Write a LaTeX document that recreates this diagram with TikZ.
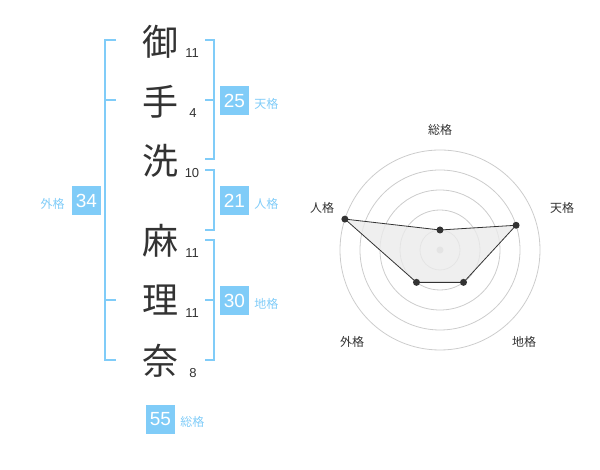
\documentclass[tikz,border=0pt]{standalone}
\usepackage{fontspec}
\setmainfont{Liberation Sans}
\newfontfamily\jp{Noto Sans CJK JP}
\usetikzlibrary{positioning}
\definecolor{kakublue}{HTML}{80CCF8}
\definecolor{ink}{HTML}{333333}

\begin{document}
\begin{tikzpicture}[x=1pt, y=1pt,
    kanji/.style={font=\jp\fontsize{36}{36}\selectfont, text=ink, inner sep=0pt},
    strokes/.style={font=\fontsize{13}{13}\selectfont, text=ink, inner sep=0pt},
    kakubox/.style={fill=kakublue, text=white, minimum size=29pt, inner sep=0pt, font=\fontsize{19}{19}\selectfont},
    kakuname/.style={text=kakublue, font=\jp\fontsize{12}{12}\selectfont, inner sep=0pt},
    bracket/.style={draw=kakublue, line width=2pt},
    ring/.style={draw=black!20, line width=0.8pt},
    radarname/.style={text=ink, font=\jp\fontsize{12}{12}\selectfont, inner sep=0pt}]
    \useasboundingbox (0,0) rectangle (600,470);

    % the name, one character per line
    \node[kanji] (c1) at (160,428) {御};
    \node[kanji] (c2) at (160,368) {手};
    \node[kanji] (c3) at (160,309) {洗};
    \node[kanji] (c4) at (160,229) {麻};
    \node[kanji] (c5) at (160,170) {理};
    \node[kanji] (c6) at (160,109) {奈};
    \node[strokes] (s1) at (192,417) {11};
    \node[strokes] (s2) at (193,357) {4};
    \node[strokes] (s3) at (192,297) {10};
    \node[strokes] (s4) at (192,217) {11};
    \node[strokes] (s5) at (192,157) {11};
    \node[strokes] (s6) at (193,97) {8};

    % brackets
    \draw[bracket] (116,430) -- (105,430) -- (105,110) -- (116,110);
    \draw[bracket] (105,370) -- (116,370);
    \draw[bracket] (105,170) -- (116,170);
    \draw[bracket] (205,430) -- (214,430) -- (214,311) -- (205,311);
    \draw[bracket] (205,370) -- (214,370);
    \draw[bracket] (205,300) -- (214,300) -- (214,240) -- (205,240);
    \draw[bracket] (205,230) -- (214,230) -- (214,110) -- (205,110);
    \draw[bracket] (205,170) -- (214,170);

    % scores
    \node[kakubox] (ten) at (234.5,369.5) {25};
    \node[kakuname, right=5pt of ten, yshift=-3pt] (tenname) {天格};
    \node[kakubox] (jin) at (234.5,269.5) {21};
    \node[kakuname, right=5pt of jin, yshift=-3pt] (jinname) {人格};
    \node[kakubox] (chi) at (234.5,169.5) {30};
    \node[kakuname, right=5pt of chi, yshift=-3pt] (chiname) {地格};
    \node[kakubox] (gai) at (86.5,269.5) {34};
    \node[kakuname, left=7pt of gai, yshift=-3pt] (gainame) {外格};
    \node[kakubox] (sou) at (160.5,50.5) {55};
    \node[kakuname, right=5pt of sou, yshift=-2pt] (souname) {総格};

    % radar chart
    \begin{scope}[shift={(440,220)}]
        \foreach \r in {20,40,...,100}
            \draw[ring] (0,0) circle (\r pt);
        \fill[black!20] (0,0) circle (3.5pt);
        \coordinate (pSou) at (90:20);
        \coordinate (pTen) at (18:80);
        \coordinate (pChi) at (-54:40);
        \coordinate (pGai) at (234:40);
        \coordinate (pJin) at (162:100);
        \draw[ink, line width=0.8pt, fill=black!8, fill opacity=0.8]
            (pSou) -- (pTen) -- (pChi) -- (pGai) -- (pJin) -- cycle;
        \foreach \p in {pSou,pTen,pChi,pGai,pJin}
            \fill[ink] (\p) circle (3.5pt);
        \node[radarname] (lSou) at (0,120) {総格};
        \node[radarname] (lTen) at (122,42) {天格};
        \node[radarname] (lJin) at (-118,42) {人格};
        \node[radarname] (lChi) at (84,-92) {地格};
        \node[radarname] (lGai) at (-88,-92) {外格};
    \end{scope}
\end{tikzpicture}
\end{document}
